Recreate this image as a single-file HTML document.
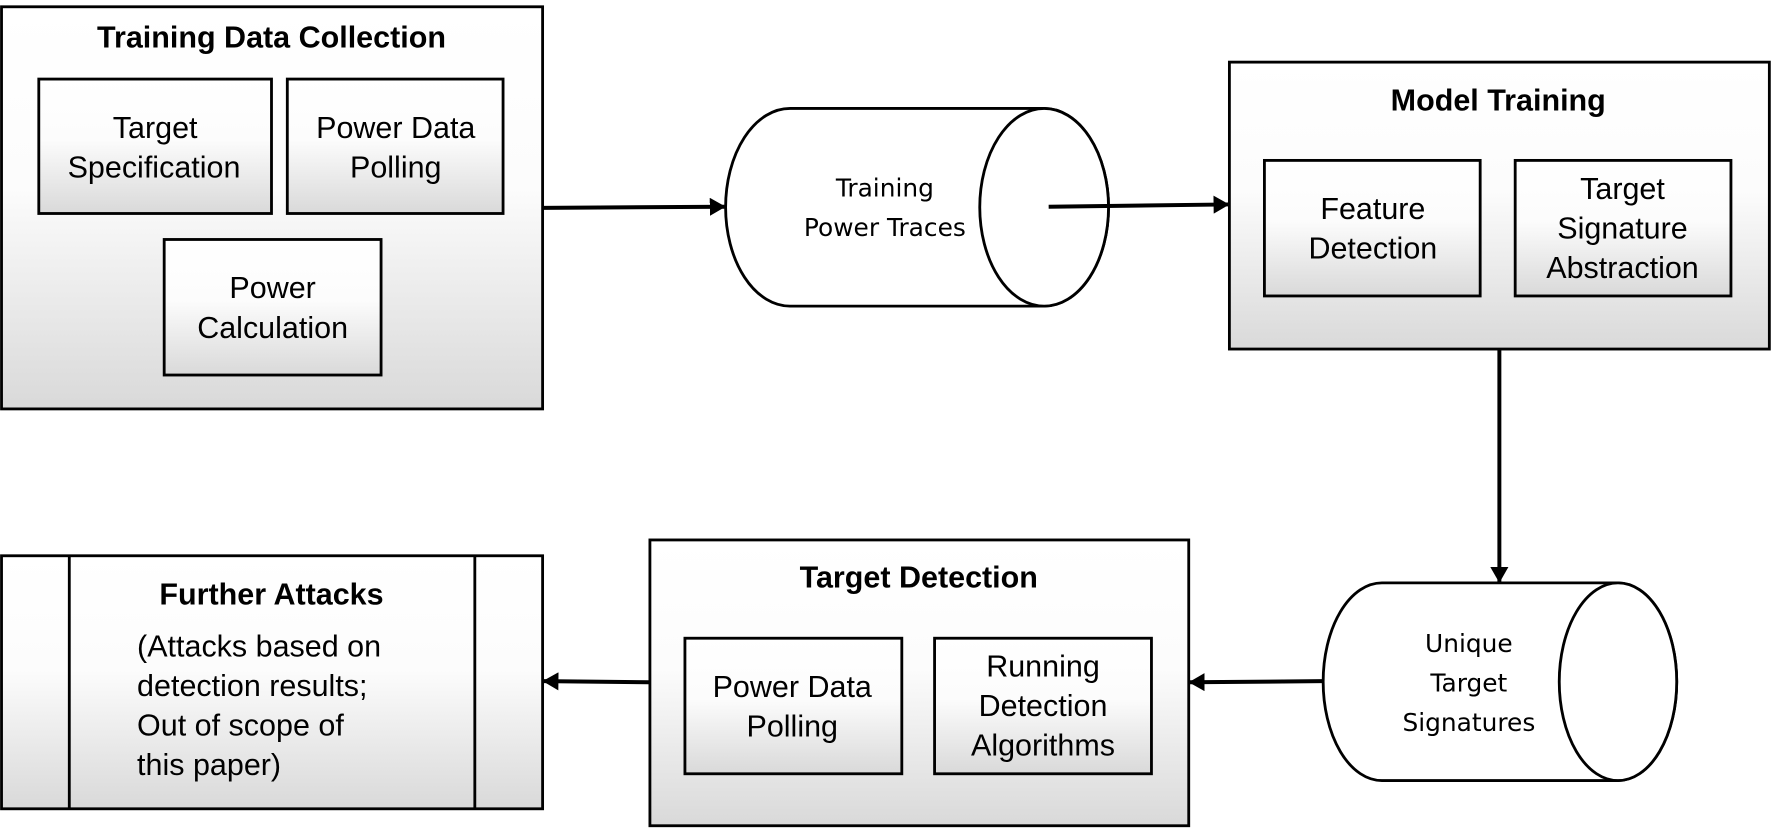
<!DOCTYPE html>
<html><head><meta charset="utf-8"><style>
html,body{margin:0;padding:0;background:#fff;}
svg{display:block;}
text{font-family:"Liberation Sans",Arial,sans-serif;fill:#000;}
.t{font-weight:bold;font-size:27px;}
.n{font-size:27px;}
.c{font-family:"DejaVu Sans","Liberation Sans",sans-serif;font-size:22px;}
</style></head><body>
<svg width="1772" height="828" viewBox="0 0 1568 733" xmlns="http://www.w3.org/2000/svg">
<defs>
<linearGradient id="g" x1="0" y1="0" x2="0" y2="1">
<stop offset="0" stop-color="#fff"/><stop offset="0.45" stop-color="#fcfcfc"/><stop offset="1" stop-color="#d9d9d9"/>
</linearGradient>
<marker id="a" markerWidth="14" markerHeight="16" refX="13" refY="8" orient="auto" markerUnits="userSpaceOnUse" viewBox="0 0 14 16">
<path d="M0,0 L14,8 L0,16 z" fill="#000"/></marker>
</defs>
<g stroke="#000" stroke-width="2.5" fill="url(#g)">
<rect x="1" y="6" width="479" height="356"/>
<rect x="34" y="70" width="206" height="119"/>
<rect x="254" y="70" width="191" height="119"/>
<rect x="145" y="212" width="192" height="120"/>
<rect x="1088" y="55" width="478" height="254"/>
<rect x="1119" y="142" width="191" height="120"/>
<rect x="1341" y="142" width="191" height="120"/>
<rect x="575" y="478" width="477" height="253"/>
<rect x="606" y="565" width="192" height="120"/>
<rect x="827" y="565" width="192" height="120"/>
<rect x="1" y="492" width="479" height="224"/>
<line x1="61" y1="492" x2="61" y2="716"/>
<line x1="420" y1="492" x2="420" y2="716"/>
</g>
<g stroke="#000" stroke-width="2.5" fill="#fff">
<path d="M699,96 L924,96 A57,87.5 0 0 1 924,271 L699,271 A57,87.5 0 0 1 699,96 z"/>
<ellipse cx="924" cy="183.5" rx="57" ry="87.5"/>
<path d="M1223,516 L1432,516 A52,87.5 0 0 1 1432,691 L1223,691 A52,87.5 0 0 1 1223,516 z"/>
<ellipse cx="1432" cy="603.5" rx="52" ry="87.5"/>
</g>
<g stroke="#000" stroke-width="3.5" fill="none" marker-end="url(#a)">
<line x1="481" y1="184" x2="641" y2="183"/>
<line x1="928" y1="183" x2="1087" y2="181"/>
<line x1="1327" y1="310" x2="1327" y2="515"/>
<line x1="1170" y1="603" x2="1053" y2="604"/>
<line x1="574" y1="604" x2="481" y2="603"/>
</g>
<g text-anchor="middle">
<text class="t" x="240" y="42">Training Data Collection</text>
<text class="n" x="137" y="122">Target</text><text class="n" x="136" y="157">Specification</text>
<text class="n" x="350" y="122">Power Data</text><text class="n" x="350" y="157">Polling</text>
<text class="n" x="241" y="264">Power</text><text class="n" x="241" y="299">Calculation</text>
<text class="c" x="783" y="174">Training</text><text class="c" x="783" y="209">Power Traces</text>
<text class="t" x="1326" y="98">Model Training</text>
<text class="n" x="1215" y="194">Feature</text><text class="n" x="1215" y="229">Detection</text>
<text class="n" x="1436" y="176">Target</text><text class="n" x="1436" y="211">Signature</text><text class="n" x="1436" y="246">Abstraction</text>
<text class="c" x="1300" y="577">Unique</text><text class="c" x="1300" y="612">Target</text><text class="c" x="1300" y="647">Signatures</text>
<text class="t" x="813" y="520">Target Detection</text>
<text class="n" x="701" y="617">Power Data</text><text class="n" x="701" y="652">Polling</text>
<text class="n" x="923" y="599">Running</text><text class="n" x="923" y="634">Detection</text><text class="n" x="923" y="669">Algorithms</text>
<text class="t" x="240" y="535">Further Attacks</text>
</g>
<text class="n" x="121" y="581">(Attacks based on</text>
<text class="n" x="121" y="616">detection results;</text>
<text class="n" x="121" y="651">Out of scope of</text>
<text class="n" x="121" y="686">this paper)</text>
</svg>
</body></html>
